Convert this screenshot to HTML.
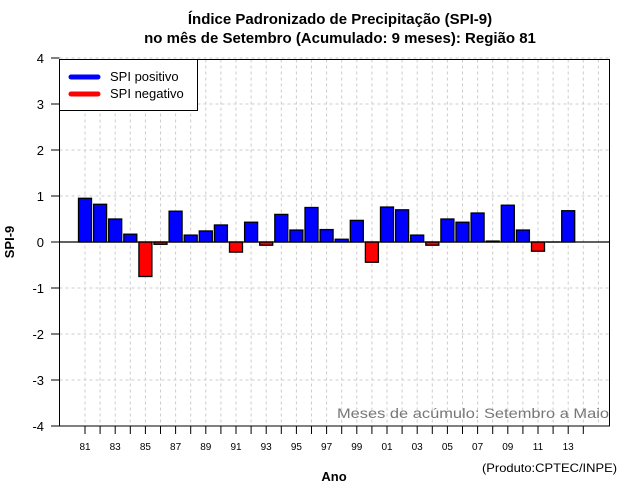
<!DOCTYPE html>
<html><head><meta charset="utf-8"><style>
body{margin:0;background:#fff;}
svg{display:block;font-family:"Liberation Sans",sans-serif;}
</style></head><body>
<svg id="c" width="640" height="500">
<text x="340" y="24" text-anchor="middle" font-size="15" font-weight="bold">Índice Padronizado de Precipitação (SPI-9)</text>
<text x="340" y="43" text-anchor="middle" font-size="15" font-weight="bold">no mês de Setembro (Acumulado: 9 meses): Região 81</text>
<g id="grid"></g><g id="bars"></g><g id="axes"></g>
<text x="14" y="242" text-anchor="middle" font-size="13" font-weight="bold" transform="rotate(-90 14 242)">SPI-9</text>
<text x="334" y="481" text-anchor="middle" font-size="13" font-weight="bold">Ano</text>
<text x="337" y="418" font-size="14" fill="#777" textLength="272" lengthAdjust="spacingAndGlyphs">Meses de acúmulo: Setembro a Maio</text>
<text x="482" y="472" font-size="12" textLength="135" lengthAdjust="spacingAndGlyphs">(Produto:CPTEC/INPE)</text>
<g>
<rect x="59.5" y="59.5" width="138" height="51" fill="#fff" stroke="#000"/>
<line x1="71" y1="77" x2="98" y2="77" stroke="#00f" stroke-width="5" stroke-linecap="round"/>
<text x="110" y="81" font-size="13">SPI positivo</text>
<line x1="71" y1="94" x2="98" y2="94" stroke="#f00" stroke-width="5" stroke-linecap="round"/>
<text x="110" y="98" font-size="13">SPI negativo</text>
</g>
</svg>
<script>
const years=[1981,1982,1983,1984,1985,1986,1987,1988,1989,1990,1991,1992,1993,1994,1995,1996,1997,1998,1999,2000,2001,2002,2003,2004,2005,2006,2007,2008,2009,2010,2011,2012,2013];
const spiValues=[0.95,0.82,0.5,0.17,-0.75,-0.05,0.67,0.15,0.24,0.37,-0.22,0.43,-0.07,0.6,0.26,0.75,0.27,0.06,0.47,-0.44,0.76,0.7,0.15,-0.07,0.5,0.43,0.63,0.02,0.8,0.26,-0.2,0,0.68];
const yTicks=[-4,-3,-2,-1,0,1,2,3,4];
const xTickLabels=["81","83","85","87","89","91","93","95","97","99","01","03","05","07","09","11","13"];
const NS="http://www.w3.org/2000/svg";
const L=59.5,R=609.5,T=59.5,B=426;
const y=v=>242-v*46;
const x=yr=>85+(yr-1981)*15.1;
function mk(tag,at,parent){const e=document.createElementNS(NS,tag);for(const k in at)e.setAttribute(k,at[k]);document.getElementById(parent).appendChild(e);return e;}
yTicks.forEach(t=>{
 const g=mk('line',{x1:L,x2:R,y1:y(t),y2:y(t),stroke:'#ccc','stroke-dasharray':'3,3'},'grid');
 
 
 const tk=mk('line',{x1:51,x2:L,y1:y(t),y2:y(t),stroke:'#000'},'axes');
 
 
 const tl=mk('text',{x:44,y:y(t)+5,'text-anchor':'end','font-size':'13'},'axes');
 tl.textContent=t;
 
 
});
for(let yr=1981;yr<=2015;yr++){
 const g=mk('line',{x1:x(yr),x2:x(yr),y1:T,y2:B,stroke:'#ccc','stroke-dasharray':'3,3'},'grid');
 
 
}
years.forEach((yr,i)=>{
 const v=spiValues[i];
 const top=Math.min(y(v),y(0)),h=Math.abs(y(v)-y(0));
 const r=mk('rect',{x:x(yr)-6.5,y:top,width:13,height:Math.max(h,0.01),fill:v>=0?'#00f':'#f00',stroke:'#000','stroke-width':1.3},'bars');
 
 
});
const z=mk('line',{x1:L,x2:R,y1:y(0),y2:y(0),stroke:'#000','stroke-width':1.2},'axes');


const f=mk('rect',{x:L,y:T,width:R-L,height:B-T,fill:'none',stroke:'#000'},'axes');


for(let yr=1981;yr<=2014;yr++){
 const tk=mk('line',{x1:x(yr),x2:x(yr),y1:B,y2:B+8,stroke:'#000'},'axes');
 
 
}
xTickLabels.forEach((lb,i)=>{
 const tl=mk('text',{x:x(1981+2*i),y:450,'text-anchor':'middle','font-size':'10'},'axes');
 tl.textContent=lb;
 
 
});
</script>
</body></html>
